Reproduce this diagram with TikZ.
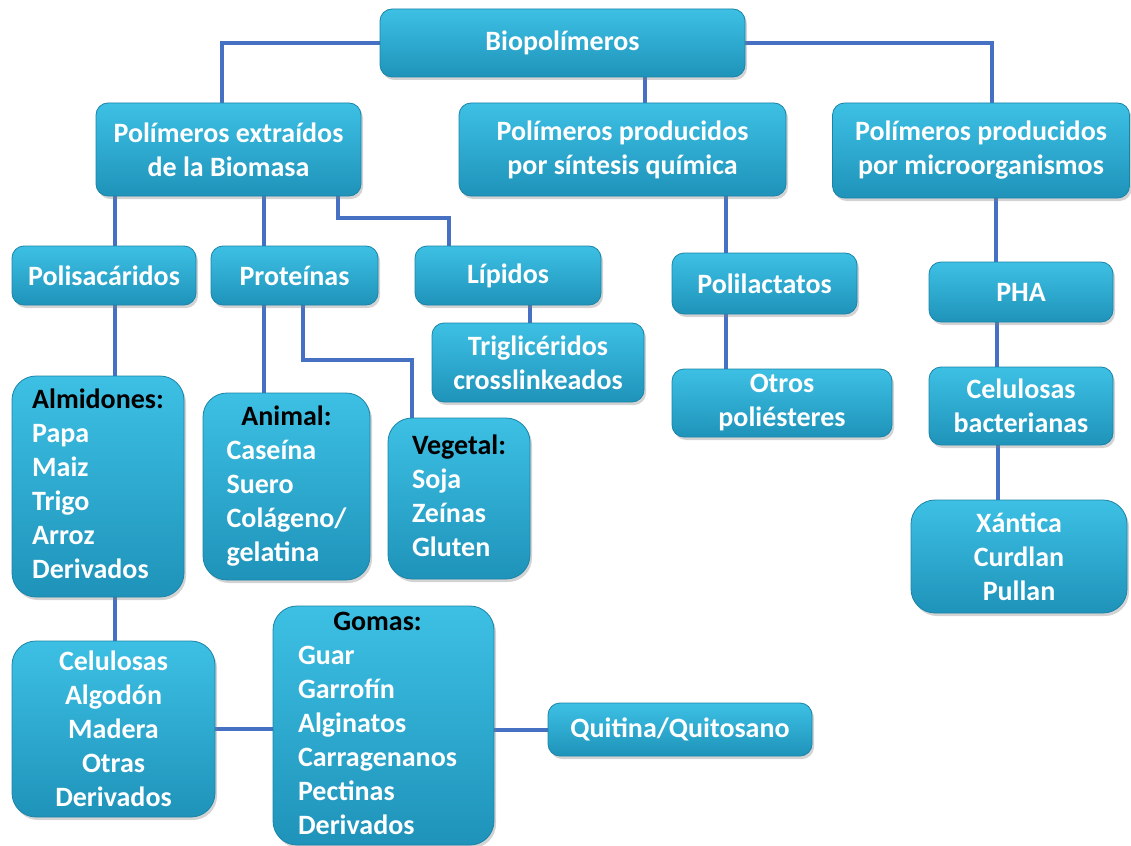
\documentclass[tikz,border=0pt]{standalone}
\usepackage{fontspec}
\setmainfont{Carlito}
\usetikzlibrary{shadows,backgrounds}

\definecolor{boxtop}{HTML}{3DC0E4}
\definecolor{boxbot}{HTML}{1F93BA}
\definecolor{boxline}{HTML}{1A84A8}
\definecolor{linkblue}{HTML}{4671C2}

\tikzset{
  box/.style={draw=boxline, line width=0.8pt, top color=boxtop, bottom color=boxbot,
    rounded corners=12pt, drop shadow={opacity=0.35, shadow xshift=2pt, shadow yshift=-3pt},
    text=white, font=\fontsize{28}{34}\selectfont\bfseries, align=center, inner sep=0pt},
  listbox/.style={box, rounded corners=24pt},
  link/.style={draw=linkblue, line width=4pt}
}
\newcommand{\hdr}[1]{\multicolumn{1}{@{}c@{}}{\color{black}#1}}

\begin{document}
\begin{tikzpicture}[x=1pt,y=-1pt]
	\useasboundingbox (0,0) rectangle (1131,845);
	
	% top level
	\node[box, minimum width=365, minimum height=68] (bio) at (562.5,43) {Biopolímeros};
	\node[box, minimum width=265, minimum height=93] (ext) at (228.5,149.5) {Polímeros extraídos\\de la Biomasa};
	\node[box, minimum width=327, minimum height=93] (sint) at (622.5,149.5) {Polímeros producidos\\por síntesis química};
	\node[box, minimum width=297, minimum height=95] (micro) at (981,150.5) {Polímeros producidos\\por microorganismos};
	
	% second level
	\node[box, minimum width=184, minimum height=59] (polis) at (104,275.5) {Polisacáridos};
	\node[box, minimum width=167, minimum height=59] (prot) at (294.5,275.5) {Proteínas};
	\node[box, minimum width=186, minimum height=59] (lip) at (508,275.5) {Lípidos};
	\node[box, minimum width=212, minimum height=79] (trig) at (538,362.5) {Triglicéridos\\crosslinkeados};
	\node[box, minimum width=185, minimum height=61] (pla) at (764.5,283.5) {Polilactatos};
	\node[box, minimum width=220, minimum height=68] (otros) at (782,403) {Otros\\poliésteres};
	\node[box, minimum width=184, minimum height=60] (pha) at (1021,292) {PHA};
	\node[box, minimum width=184, minimum height=78] (celb) at (1021,406) {Celulosas\\bacterianas};
	\node[listbox, minimum width=216, minimum height=113] (xant) at (1019,556.5) {Xántica\\Curdlan\\Pullan};
	
	% lists
	\node[listbox, minimum width=172, minimum height=221] (almid) at (98,486.5)
		{\begin{tabular}{@{}l@{}}\hdr{Almidones:}\\Papa\\Maiz\\Trigo\\Arroz\\Derivados\end{tabular}};
	\node[listbox, minimum width=167, minimum height=187] (anim) at (286.5,486.5)
		{\begin{tabular}{@{}l@{}}\hdr{Animal:}\\Caseína\\Suero\\Colágeno/\\gelatina\end{tabular}};
	\node[listbox, minimum width=142, minimum height=161] (veg) at (459,498.5)
		{\begin{tabular}{@{}l@{}}\hdr{Vegetal:}\\Soja\\Zeínas\\Gluten\end{tabular}};
	\node[listbox, minimum width=203, minimum height=176] (celu) at (113.5,729) {Celulosas\\Algodón\\Madera\\Otras\\Derivados};
	\node[listbox, minimum width=221, minimum height=239] (gomas) at (383.5,725.5)
		{\begin{tabular}{@{}l@{}}\hdr{Gomas:}\\Guar\\Garrofín\\Alginatos\\Carragenanos\\Pectinas\\Derivados\end{tabular}\hspace{12pt}};
	\node[box, minimum width=264, minimum height=53] (quit) at (680,729.5) {Quitina/Quitosano};
	
	% connectors
	\begin{scope}[on background layer]
		\draw[link] (bio.west) -| ([xshift=-7]ext.north);
		\draw[link] (bio.east) -| ([xshift=11]micro.north);
		\draw[link] ([xshift=82]bio.south) -- ([xshift=82]bio.south |- sint.north);
		\draw[link] ([xshift=11]polis.north) -- ([xshift=11]polis.north |- ext.south);
		\draw[link] ([xshift=-31]prot.north) -- ([xshift=-31]prot.north |- ext.south);
		\draw[link] ([xshift=109]ext.south) -- ++(0,22) -| ([xshift=-59]lip.north);
		\draw[link] ([xshift=11]polis.south) -- ([xshift=11]polis.south |- almid.north);
		\draw[link] ([xshift=-31]prot.south) -- ([xshift=-31]prot.south |- anim.north);
		\draw[link] ([xshift=8]prot.south) -- ++(0,55) -| ([xshift=-47]veg.north);
		\draw[link] ([xshift=22]lip.south) -- ([xshift=22]lip.south |- trig.north);
		\draw[link] ([xshift=-39]pla.north) -- ([xshift=-39]pla.north |- sint.south);
		\draw[link] ([xshift=-39]pla.south) -- ([xshift=-39]pla.south |- otros.north);
		\draw[link] ([xshift=-25]pha.north) -- ([xshift=-25]pha.north |- micro.south);
		\draw[link] ([xshift=-24]pha.south) -- ([xshift=-24]pha.south |- celb.north);
		\draw[link] ([xshift=-23]celb.south) -- ([xshift=-23]celb.south |- xant.north);
		\draw[link] ([xshift=11]polis.south |- almid.south) -- ([xshift=11]polis.south |- celu.north);
		\draw[link] (celu.east) -- (celu.east -| gomas.west);
		\draw[link] (gomas.east |- quit.west) -- (quit.west);
	\end{scope}
	
\end{tikzpicture}
\end{document}
